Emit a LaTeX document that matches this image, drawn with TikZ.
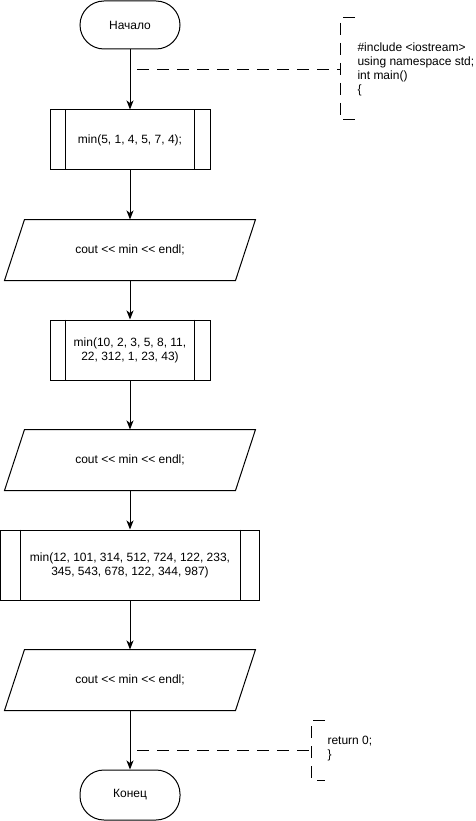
\documentclass[tikz,border=0pt]{standalone}
\usepackage{fontspec}
\setmainfont{Liberation Sans}[Ligatures=TeXOff]
\usetikzlibrary{calc,arrows.meta}

\begin{document}
\begin{tikzpicture}[x=1pt,y=-1pt,line width=1pt,
  every node/.style={font=\fontsize{12}{14}\selectfont, align=center, inner sep=0pt},
  term/.style={draw, rounded corners=24pt, minimum width=100pt, minimum height=48pt},
  proc/.style={draw, minimum width=160pt, minimum height=60pt},
  wideproc/.style={draw, minimum width=259pt, minimum height=70pt},
  iobox/.style={minimum width=250pt, minimum height=60pt},
  flow/.style={-{Stealth[length=9pt,width=7pt,inset=2.5pt]}},
  note/.style={dash pattern=on 12pt off 8pt},
  notelink/.style={dash pattern=on 12pt off 8pt, dash phase=13pt}]
\useasboundingbox (0,0) rectangle (475,821);

% main flow
\node[term] (start) at (130,25) {Начало};
\node[proc] (b1) at (130,140) {min(5, 1, 4, 5, 7, 4);};
\node[iobox] (p1) at (130,250) {cout << min << endl;};
\node[proc] (b2) at (130,350) {min(10, 2, 3, 5, 8, 11,\\22, 312, 1, 23, 43)};
\node[iobox] (p2) at (130,460) {cout << min << endl;};
\node[wideproc] (b3) at (130,565) {min(12, 101, 314, 512, 724, 122, 233,\\345, 543, 678, 122, 344, 987)};
\node[iobox] (p3) at (130,680) {cout << min << endl;};
\node[term, minimum height=50pt] (stop) at (130,795) {Конец};

% predefined-process side bars
\foreach \b/\d in {b1/16, b2/16, b3/20} {
  \draw ($(\b.north west)+(\d,0)$) -- ($(\b.south west)+(\d,0)$);
  \draw ($(\b.north east)+(-\d,0)$) -- ($(\b.south east)+(-\d,0)$);
}

% input/output parallelograms
\foreach \p in {p1, p2, p3} {
  \draw ($(\p.south west)$) -- ($(\p.north west)+(20,0)$) -- (\p.north east)
        -- ($(\p.south east)+(-20,0)$) -- cycle;
}

% connectors
\draw[flow] (start) -- (b1);
\draw[flow] (b1) -- (p1.north);
\draw[flow] (p1.south) -- (b2);
\draw[flow] (b2) -- (p2.north);
\draw[flow] (p2.south) -- (b3);
\draw[flow] (b3) -- (p3.north);
\draw[flow] (p3.south) -- (stop);

% annotations
\node[anchor=west, align=left] (n1) at (357,69.5) {\#include <iostream>\\using namespace std;\\int main()\\\{};
\coordinate (n1tip) at (340,70);
\coordinate (c1) at (130,70);
\draw[note] (355,18) -- (340,18) -- (340,120) -- (355,120);
\draw[notelink] (c1) -- (n1tip);

\node[anchor=west, align=left] (n2) at (327,749) {return 0;\\\}};
\coordinate (n2tip) at (311,750);
\coordinate (c2) at (130,750);
\draw[note] (325,720) -- (311,720) -- (311,780) -- (325,780);
\draw[notelink] (c2) -- (n2tip);
\end{tikzpicture}
\end{document}
